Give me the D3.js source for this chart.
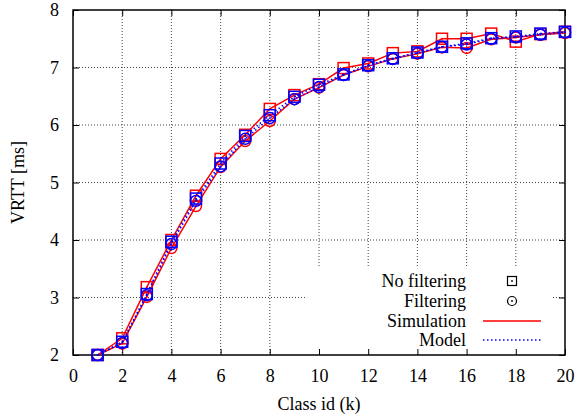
<!DOCTYPE html>
<html>
<head>
<meta charset="utf-8">
<script src="https://cdn.jsdelivr.net/npm/d3@7"></script>
<style>
  body { margin: 0; background: #fff; }
  text { font-family: "Liberation Serif", "DejaVu Serif", serif; }
</style>
</head>
<body>
<svg id="chart" width="577" height="418"></svg>
<script>
const classes = [1,2,3,4,5,6,7,8,9,10,11,12,13,14,15,16,17,18,19,20];
const simNoFilt   = [2.00,2.29,3.18,4.00,4.77,5.41,5.83,6.28,6.52,6.71,6.99,7.07,7.25,7.28,7.50,7.50,7.59,7.45,7.58,7.62];
const modelNoFilt = [2.00,2.23,3.06,3.97,4.72,5.33,5.81,6.17,6.49,6.70,6.88,7.04,7.16,7.26,7.36,7.42,7.51,7.54,7.59,7.62];
const simFilt     = [2.00,2.20,3.01,3.86,4.59,5.27,5.72,6.07,6.45,6.65,6.87,7.02,7.15,7.24,7.35,7.34,7.49,7.52,7.57,7.60];
const modelFilt   = [2.00,2.21,3.04,3.93,4.68,5.28,5.76,6.12,6.45,6.66,6.87,7.03,7.15,7.25,7.36,7.40,7.50,7.53,7.57,7.61];
const xTicks = [0,2,4,6,8,10,12,14,16,18,20];
const yTicks = [2,3,4,5,6,7,8];
const legendLabels = ["No filtering","Filtering","Simulation","Model"];
const xLabel = "Class id (k)";
const yLabel = "VRTT [ms]";

const svg = d3.select("#chart");
const L = 73, R = 565, T = 10, B = 355;
const x = d3.scaleLinear().domain([0,20]).range([L,R]);
const y = d3.scaleLinear().domain([2,8]).range([B,T]);
const red = "#ff0000", blue = "#0000ff";

// grid
const grid = svg.append("g");
grid.selectAll("line.vx").data(xTicks.filter(d => d>0 && d<20)).join("line")
  .attr("x1", d=>x(d)).attr("x2", d=>x(d)).attr("y1", T).attr("y2", B)
  .attr("stroke", "#444").attr("stroke-width", 1).attr("stroke-dasharray", "1,2");
grid.selectAll("line.hy").data(yTicks.filter(d => d>2 && d<8)).join("line")
  .attr("y1", d=>y(d)).attr("y2", d=>y(d)).attr("x1", L).attr("x2", R)
  .attr("stroke", "#444").attr("stroke-width", 1).attr("stroke-dasharray", "1,2");

// legend background (hides grid)
svg.append("rect").attr("x", 305).attr("y", 268).attr("width", 248).attr("height", B-268-1).attr("fill", "#fff");

// axes
const axB = d3.axisBottom(x).tickValues(xTicks).tickSize(-6).tickPadding(14).tickFormat(d3.format("d"));
const axT = d3.axisTop(x).tickValues(xTicks).tickSize(-6).tickFormat("");
const axLft = d3.axisLeft(y).tickValues(yTicks).tickSize(-6).tickPadding(14).tickFormat(d3.format("d"));
const axRt = d3.axisRight(y).tickValues(yTicks).tickSize(-6).tickFormat("");
function style(g){
  g.select(".domain").remove();
  g.selectAll(".tick line").attr("stroke", "#000").attr("stroke-width", 1);
  g.selectAll(".tick text").attr("fill", "#000").style("font-size", "18px");
}
svg.append("g").attr("transform", `translate(0,${B})`).call(axB).call(style);
svg.append("g").attr("transform", `translate(0,${T})`).call(axT).call(style);
svg.append("g").attr("transform", `translate(${L},0)`).call(axLft).call(style);
svg.append("g").attr("transform", `translate(${R},0)`).call(axRt).call(style);
svg.append("rect").attr("x", L).attr("y", T).attr("width", R-L).attr("height", B-T)
  .attr("fill", "none").attr("stroke", "#000").attr("stroke-width", 1.5);

// axis labels
svg.append("text").attr("x", (L+R)/2).attr("y", 410).attr("text-anchor", "middle")
  .style("font-size", "18px").text(xLabel);
svg.append("text").attr("transform", `translate(24,${(T+B)/2}) rotate(-90)`).attr("text-anchor", "middle")
  .style("font-size", "18px").text(yLabel);

const line = d3.line().x((d,i)=>x(classes[i])).y(d=>y(d));

function square(g, data, color, size){
  const s = size;
  g.selectAll(null).data(data).join("rect")
    .attr("x", (d,i)=>x(classes[i])-s/2).attr("y", d=>y(d)-s/2)
    .attr("width", s).attr("height", s)
    .attr("fill", "none").attr("stroke", color).attr("stroke-width", 1.5);
  g.selectAll(null).data(data).join("circle")
    .attr("cx", (d,i)=>x(classes[i])).attr("cy", d=>y(d)).attr("r", 0.9).attr("fill", color);
}
function circ(g, data, color, r){
  g.selectAll(null).data(data).join("circle")
    .attr("cx", (d,i)=>x(classes[i])).attr("cy", d=>y(d)).attr("r", r)
    .attr("fill", "none").attr("stroke", color).attr("stroke-width", 1.5);
  g.selectAll(null).data(data).join("circle")
    .attr("cx", (d,i)=>x(classes[i])).attr("cy", d=>y(d)).attr("r", 0.9).attr("fill", color);
}

// simulation (red)
const gs = svg.append("g");
gs.append("path").datum(simNoFilt).attr("d", line).attr("fill","none").attr("stroke", red).attr("stroke-width", 1.5);
gs.append("path").datum(simFilt).attr("d", line).attr("fill","none").attr("stroke", red).attr("stroke-width", 1.5);
square(gs.append("g"), simNoFilt, red, 11);
circ(gs.append("g"), simFilt, red, 5.5);

// model (blue)
const gm = svg.append("g");
gm.append("path").datum(modelNoFilt).attr("d", line).attr("fill","none").attr("stroke", blue).attr("stroke-width", 1.5).attr("stroke-dasharray","1.5,2.5");
gm.append("path").datum(modelFilt).attr("d", line).attr("fill","none").attr("stroke", blue).attr("stroke-width", 1.5).attr("stroke-dasharray","1.5,2.5");
square(gm.append("g"), modelNoFilt, blue, 11);
circ(gm.append("g"), modelFilt, blue, 5.5);

// legend
const lg = svg.append("g");
const rowY = [281, 301, 321, 340];
lg.selectAll("text").data(legendLabels).join("text")
  .attr("x", 466).attr("y", (d,i)=>rowY[i]).attr("dy", "0.35em").attr("text-anchor", "end")
  .style("font-size", "18px").text(d=>d);
const mx = 512;
lg.append("rect").attr("x", mx-4.5).attr("y", rowY[0]-4.5).attr("width", 9).attr("height", 9)
  .attr("fill","none").attr("stroke","#000").attr("stroke-width",1.2);
lg.append("circle").attr("cx", mx).attr("cy", rowY[0]).attr("r", 0.9).attr("fill","#000");
lg.append("circle").attr("cx", mx).attr("cy", rowY[1]).attr("r", 4.5)
  .attr("fill","none").attr("stroke","#000").attr("stroke-width",1.2);
lg.append("circle").attr("cx", mx).attr("cy", rowY[1]).attr("r", 0.9).attr("fill","#000");
lg.append("line").attr("x1", 483).attr("x2", 541).attr("y1", rowY[2]).attr("y2", rowY[2])
  .attr("stroke", red).attr("stroke-width", 1.5);
lg.append("line").attr("x1", 483).attr("x2", 541).attr("y1", rowY[3]).attr("y2", rowY[3])
  .attr("stroke", blue).attr("stroke-width", 1.5).attr("stroke-dasharray","1.5,2.5");
</script>
</body>
</html>
